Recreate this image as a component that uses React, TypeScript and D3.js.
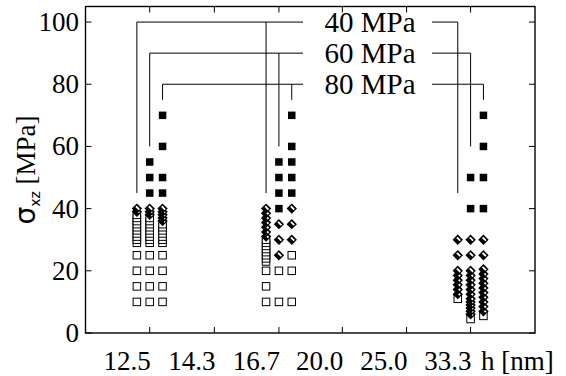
import React, { useRef, useEffect } from "react";
import * as d3 from "d3";

const PRESSURES = ["40 MPa", "60 MPa", "80 MPa"];
const H_GROUPS = [12.5, 16.7, 33.3];
const X_TICKS = [12.5, 14.3, 16.7, 20.0, 25.0, 33.3];
const Y_TICKS = [0, 20, 40, 60, 80, 100];
const LEGEND_ROWS = [100, 90, 80];
const LEADER_ENDS = [45, 60, 75];

// open squares, per pressure (40, 60, 80 MPa)
const OPEN_125 = [
  [10, 15, 20, 25, 29, 30, 31, 32, 33, 34, 35, 36, 37, 38],
  [10, 15, 20, 25, 29, 30, 31, 32, 33, 34, 35, 36, 37],
  [10, 15, 20, 25, 29, 30, 31, 32, 33, 34, 35],
];
const OPEN_167 = [
  [10, 15, 20, 23, 24, 25, 26, 27, 28, 29, 30],
  [10, 20],
  [10, 20, 25],
];
const OPEN_333 = [[11], [4.5], [5.5]];

// diamonds
const DIAM_125 = [
  [39, 40],
  [38, 39, 40],
  [36, 37, 38, 39, 40],
];
const DIAM_167 = [
  [31, 32.5, 34, 35.5, 37, 38.5, 40],
  [25, 30, 35],
  [30, 35, 40],
];
const DIAM_333 = [
  [12.5, 14, 15.5, 17, 18.5, 20, 25, 30],
  [6, 7, 8, 9, 10, 11, 12.5, 14, 15.5, 17, 18.5, 20, 25, 30],
  [7, 8.5, 10, 11.5, 13, 14.5, 16, 17.5, 19, 20.5, 25, 30],
];

// filled squares
const FILL_125 = [[], [45, 50, 55], [45, 50, 60, 70]];
const FILL_167 = [[], [40, 45, 50, 55], [45, 50, 55, 60, 70]];
const FILL_333 = [[], [40, 50], [40, 50, 60, 70]];

const W = 566;
const H = 376;
const FONT = "Liberation Serif";

const App: React.FC = () => {
  const svgRef = useRef<SVGSVGElement | null>(null);

  useEffect(() => {
    if (!svgRef.current) return;
    const svg = d3.select(svgRef.current);
    svg.selectAll("*").remove();

    const left = 85.5, right = 535, top = 6.5, bottom = 333;
    const x = d3.scaleLinear().domain([9, 2]).range([left, right]);
    const y = d3.scaleLinear().domain([0, 105]).range([bottom, top]);
    const colX = (h: number, pi: number) => x(100 / h + (1 - pi) * 0.2);

    /* leader lines + legend */
    const cx = 370;
    PRESSURES.forEach((label, pi) => {
      const ly = y(LEGEND_ROWS[pi]);
      const x0 = colX(H_GROUPS[0], pi);
      const x1 = colX(H_GROUPS[H_GROUPS.length - 1], pi);
      const lg = svg.append("g").attr("stroke", "#000").attr("stroke-width", 1);
      lg.append("line").attr("x1", x0).attr("x2", cx - 67).attr("y1", ly).attr("y2", ly);
      lg.append("line").attr("x1", cx + 62).attr("x2", x1).attr("y1", ly).attr("y2", ly);
      H_GROUPS.forEach((h) => {
        const vx = colX(h, pi);
        lg.append("line")
          .attr("x1", vx).attr("x2", vx)
          .attr("y1", ly).attr("y2", y(LEADER_ENDS[pi]));
      });
      svg.append("text")
        .attr("x", cx)
        .attr("y", ly + 10)
        .attr("text-anchor", "middle")
        .attr("font-family", FONT)
        .attr("font-size", 29)
        .text(label);
    });

    /* markers */
    const groups = [
      { h: H_GROUPS[0], open: OPEN_125, diam: DIAM_125, fill: FILL_125 },
      { h: H_GROUPS[1], open: OPEN_167, diam: DIAM_167, fill: FILL_167 },
      { h: H_GROUPS[2], open: OPEN_333, diam: DIAM_333, fill: FILL_333 },
    ];
    const mg = svg.append("g");
    const s = 7.5;
    groups.forEach((g) => {
      PRESSURES.forEach((_, pi) => {
        const px = colX(g.h, pi);
        g.open[pi].forEach((v) => {
          mg.append("rect")
            .attr("x", px - s / 2).attr("y", y(v) - s / 2)
            .attr("width", s).attr("height", s)
            .attr("fill", "#fff").attr("stroke", "#000").attr("stroke-width", 1);
        });
      });
    });
    const r = 5.2;
    groups.forEach((g) => {
      PRESSURES.forEach((_, pi) => {
        const px = colX(g.h, pi);
        g.diam[pi].forEach((v) => {
          const d = mg.append("g").attr("transform", `translate(${px},${y(v)})`);
          d.append("path")
            .attr("d", `M0,${-r}L${r},0L0,${r}L${-r},0Z`)
            .attr("fill", "#000");
          d.append("path")
            .attr("d", "M-0.2,-3L3.1,0.3L1.8,1.6L-1.5,-1.7Z")
            .attr("fill", "#fff");
        });
      });
    });
    groups.forEach((g) => {
      PRESSURES.forEach((_, pi) => {
        const px = colX(g.h, pi);
        g.fill[pi].forEach((v) => {
          mg.append("rect")
            .attr("x", px - s / 2).attr("y", y(v) - s / 2)
            .attr("width", s).attr("height", s)
            .attr("fill", "#000");
        });
      });
    });

    /* frame + ticks */
    svg.append("rect")
      .attr("x", left).attr("y", top)
      .attr("width", right - left).attr("height", bottom - top)
      .attr("fill", "none").attr("stroke", "#000").attr("stroke-width", 1.4);

    const tg = svg.append("g").attr("stroke", "#000").attr("stroke-width", 1);
    X_TICKS.forEach((t) => {
      const tx = x(100 / t);
      tg.append("line").attr("x1", tx).attr("x2", tx).attr("y1", bottom).attr("y2", bottom - 6);
      tg.append("line").attr("x1", tx).attr("x2", tx).attr("y1", top).attr("y2", top + 6);
    });
    Y_TICKS.forEach((t) => {
      const ty = y(t);
      tg.append("line").attr("x1", left).attr("x2", left + 6).attr("y1", ty).attr("y2", ty);
      tg.append("line").attr("x1", right).attr("x2", right - 6).attr("y1", ty).attr("y2", ty);
    });

    svg.append("g")
      .selectAll("text")
      .data(X_TICKS)
      .join("text")
      .attr("x", (d) => x(100 / d) + 1)
      .attr("y", 370)
      .attr("text-anchor", "end")
      .attr("font-family", FONT)
      .attr("font-size", 27)
      .text((d) => d3.format(".1f")(d));

    svg.append("text")
      .attr("x", 481)
      .attr("y", 370)
      .attr("font-family", FONT)
      .attr("font-size", 27)
      .text("h [nm]");

    svg.append("g")
      .selectAll("text")
      .data(Y_TICKS)
      .join("text")
      .attr("x", 79)
      .attr("y", (d) => y(d) + 9)
      .attr("text-anchor", "end")
      .attr("font-family", FONT)
      .attr("font-size", 27)
      .text((d) => `${d}`);

    const yl = svg.append("text")
      .attr("transform", `translate(35,170) rotate(-90)`)
      .attr("text-anchor", "middle")
      .attr("font-family", FONT)
      .attr("font-size", 27);
    yl.append("tspan").attr("font-family", "DejaVu Sans").attr("font-size", 28).text("σ");
    yl.append("tspan").attr("font-family", "DejaVu Sans").attr("font-size", 14).attr("dy", 5).text("xz");
    yl.append("tspan").attr("dy", -5).text(" [MPa]");
  }, []);

  return (
    <svg
      ref={svgRef}
      width={W}
      height={H}
      viewBox={`0 0 ${W} ${H}`}
      style={{ position: "absolute", left: 0, top: 0, background: "#fff" }}
    />
  );
};

export default App;
